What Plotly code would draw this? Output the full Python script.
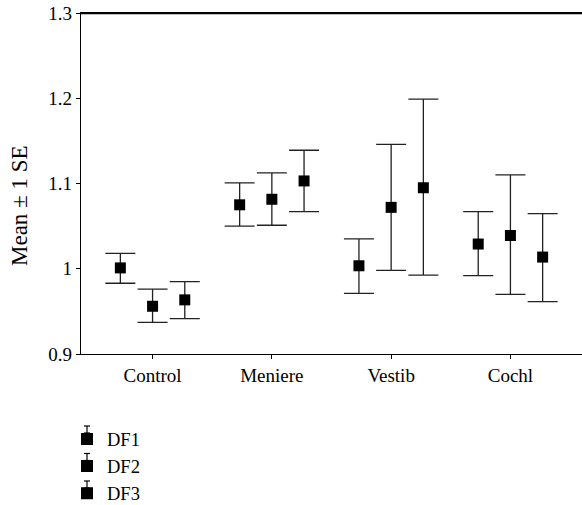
import plotly.graph_objects as go

categories = ["Control", "Meniere", "Vestib", "Cochl"]
series_names = ["DF1", "DF2", "DF3"]
means = {
    "DF1": [1.001, 1.075, 1.0035, 1.029],
    "DF2": [0.956, 1.0815, 1.072, 1.039],
    "DF3": [0.9635, 1.103, 1.095, 1.0137],
}
upper = {
    "DF1": [1.018, 1.1007, 1.035, 1.067],
    "DF2": [0.976, 1.1125, 1.146, 1.110],
    "DF3": [0.985, 1.139, 1.199, 1.0647],
}
lower = {
    "DF1": [0.983, 1.050, 0.971, 0.992],
    "DF2": [0.937, 1.051, 0.998, 0.970],
    "DF3": [0.9415, 1.067, 0.9925, 0.9615],
}
y_ticks = [0.9, 1.0, 1.1, 1.2, 1.3]
y_tick_text = ["0.9", "1", "1.1", "1.2", "1.3"]
y_title = "Mean ± 1 SE"

offsets = [-0.27, 0.0, 0.27]
FONT = "Liberation Serif"
TICK_SIZE = 19
LEG_SIZE = 18.5

W, H = 582, 505
ML, MT, MR, MB = 81, 13, 0, 151
plot_w = W - ML - MR
plot_h = H - MT - MB

fig = go.Figure()
for name, off in zip(series_names, offsets):
    m = means[name]
    fig.add_trace(go.Scatter(
        x=[i + off for i in range(len(categories))],
        y=m,
        mode="markers",
        name=name,
        marker=dict(symbol="square", size=11, color="black"),
        error_y=dict(
            type="data", symmetric=False,
            array=[u - v for u, v in zip(upper[name], m)],
            arrayminus=[v - l for v, l in zip(m, lower[name])],
            color="#222222", thickness=1.3, width=15,
        ),
    ))

leg_left_px = -14
leg_top_screen = 420.5
fig.update_layout(
    width=W, height=H,
    margin=dict(l=ML, r=MR, t=MT, b=MB),
    plot_bgcolor="white", paper_bgcolor="white",
    font=dict(family=FONT, size=TICK_SIZE, color="black"),
    showlegend=True,
    legend=dict(x=leg_left_px / plot_w, xref="paper",
                y=1 - leg_top_screen / H, yref="container",
                xanchor="left", yanchor="top",
                bgcolor="rgba(0,0,0,0)",
                font=dict(family=FONT, size=LEG_SIZE), tracegroupgap=0,
                itemsizing="constant"),
    xaxis=dict(
        range=[-0.6, 3.6],
        tickvals=list(range(len(categories))), ticktext=categories,
        showline=True, linecolor="black", linewidth=1.3, mirror=True,
        ticks="outside", ticklen=4, tickcolor="black",
        showgrid=False, zeroline=False,
        tickfont=dict(family=FONT, size=TICK_SIZE),
    ),
    yaxis=dict(
        range=[0.9, 1.3],
        tickvals=y_ticks, ticktext=y_tick_text,
        showline=True, linecolor="black", linewidth=1.3,
        ticks="outside", ticklen=4, tickcolor="black",
        showgrid=False, zeroline=False,
        tickfont=dict(family=FONT, size=TICK_SIZE),
    ),
)

# explicit top frame line (plot-area top edge)
fig.add_shape(type="line", xref="paper", yref="paper", layer="above",
              x0=0, x1=1, y0=1 - 0.5 / plot_h, y1=1 - 0.5 / plot_h,
              line=dict(color="black", width=1.4))

# y-axis title
fig.add_annotation(
    text=y_title, textangle=-90, showarrow=False,
    xref="paper", yref="paper",
    x=-61 / plot_w, y=(plot_h - 193) / plot_h,
    xanchor="center", yanchor="middle",
    font=dict(family=FONT, size=23, color="black"),
)

# small error-bar glyphs above legend squares
for k in range(len(series_names)):
    top_px = 72 + k * 27.5
    y1 = -top_px / plot_h
    y2 = -(top_px + 7) / plot_h
    cx = 6 / plot_w
    xl = 3 / plot_w
    xr = 9 / plot_w
    for (xa, ya, xb, yb) in [(cx, y1, cx, y2), (xl, y1, xr, y1), (xl, y2, xr, y2)]:
        fig.add_shape(type="line", xref="paper", yref="paper",
                      x0=xa, y0=ya, x1=xb, y1=yb,
                      line=dict(color="black", width=1.2))

fig.write_html("out.html", config={"displayModeBar": False},
               post_script="document.body.style.margin='0px';")
